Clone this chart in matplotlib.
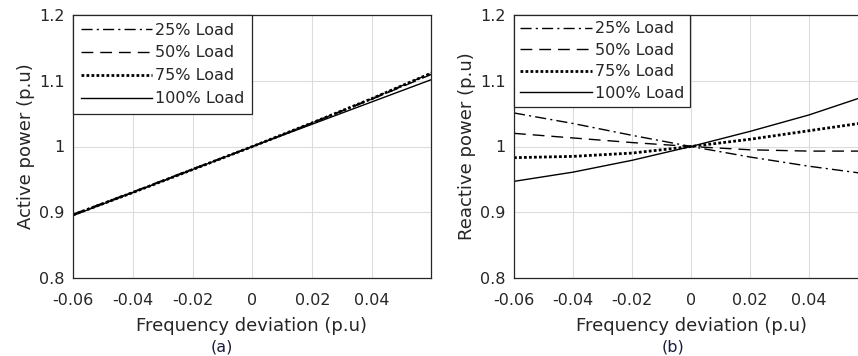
import matplotlib
matplotlib.use('Agg')
from matplotlib import pyplot as plt

# frequency deviation samples (p.u)
freq_dev = [-0.06, -0.04, -0.02, 0.0, 0.02, 0.04, 0.06]

# active power (p.u) per load level
active_25 = [0.897, 0.931, 0.966, 1.0, 1.036, 1.073, 1.112]
active_50 = [0.896, 0.930, 0.965, 1.0, 1.036, 1.072, 1.110]
active_75 = [0.896, 0.930, 0.965, 1.0, 1.036, 1.073, 1.112]
active_100 = [0.895, 0.930, 0.965, 1.0, 1.034, 1.068, 1.102]

# reactive power (p.u) per load level
reactive_25 = [1.051, 1.035, 1.017, 1.0, 0.984, 0.970, 0.958]
reactive_50 = [1.020, 1.013, 1.006, 1.0, 0.995, 0.993, 0.993]
reactive_75 = [0.983, 0.985, 0.990, 1.0, 1.011, 1.024, 1.037]
reactive_100 = [0.947, 0.961, 0.979, 1.0, 1.023, 1.048, 1.078]

labels = ['25% Load', '50% Load', '75% Load', '100% Load']

plt.rcParams['font.family'] = ['DejaVu Sans']
txt = '0.15'

fig = plt.figure(figsize=(8.58, 3.56), dpi=100)
ax1 = fig.add_axes([73/858, 78/356, 358/858, 263/356])
ax2 = fig.add_axes([514/858, 78/356, 354/858, 263/356])


def draw(ax, series, ylabel, xmax, spacing, bpad):
    styles = [
        dict(linestyle=(0, (8, 3, 1.5, 3)), linewidth=1.0),
        dict(linestyle=(0, (8.5, 5)), linewidth=1.0),
        dict(linestyle=(0, (1, 0.8)), linewidth=2.0),
        dict(linestyle='-', linewidth=1.0),
    ]
    for y, lab, st in zip(series, labels, styles):
        ax.plot(freq_dev, y, color='black', label=lab, **st)
    ax.set_xlim(-0.06, xmax)
    ax.set_ylim(0.8, 1.2)
    ax.set_xticks([-0.06, -0.04, -0.02, 0, 0.02, 0.04])
    ax.set_xticklabels(['-0.06', '-0.04', '-0.02', '0', '0.02', '0.04'])
    ax.set_yticks([0.8, 0.9, 1.0, 1.1, 1.2])
    ax.set_yticklabels(['0.8', '0.9', '1', '1.1', '1.2'])
    ax.grid(True, color='#dcdcdc', linewidth=0.8)
    ax.set_axisbelow(True)
    ax.tick_params(direction='in', length=0, labelsize=11.5, colors=txt)
    ax.tick_params(axis='x', pad=11)
    ax.tick_params(axis='y', pad=6)
    for sp in ax.spines.values():
        sp.set_color('#262626')
        sp.set_linewidth(0.9)
    ax.set_xlabel('Frequency deviation (p.u)', fontsize=13, color=txt, labelpad=6)
    ax.set_ylabel(ylabel, fontsize=13, color=txt, labelpad=3)
    leg = ax.legend(loc='upper left', fontsize=11.5, handlelength=4.5,
                    handletextpad=0.15, borderaxespad=0, fancybox=False,
                    framealpha=1, edgecolor='#262626', labelspacing=spacing,
                    borderpad=bpad)
    leg.get_frame().set_linewidth(0.9)
    for t in leg.get_texts():
        t.set_color(txt)


draw(ax1, [active_25, active_50, active_75, active_100], 'Active power (p.u)', 0.0597, 0.5, 0.47)
draw(ax2, [reactive_25, reactive_50, reactive_75, reactive_100], 'Reactive power (p.u)', 0.06, 0.4, 0.4)

fig.text(222/858, 1 - 347/356, '(a)', ha='center', va='center', fontsize=11.5, color='#1c1c3c')
fig.text(673/858, 1 - 347/356, '(b)', ha='center', va='center', fontsize=11.5, color='#1c1c3c')

fig.savefig('out.png', dpi=100)
